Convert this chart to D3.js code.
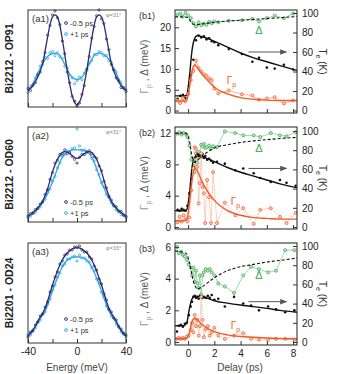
<!DOCTYPE html>
<html>
<head>
<meta charset="utf-8">
<script src="https://cdn.jsdelivr.net/npm/d3@7"></script>
<style>
body { margin: 0; background: #fff; }
text { font-family: "Liberation Sans", Arial, sans-serif; }
</style>
</head>
<body>
<div id="root"></div>
<script>
// ---- left column: symmetrized EDCs, energy -40..40 meV in 2 meV steps ----
var energy = d3.range(-40, 41, 2);

var a1DarkFit = [0.17,0.19,0.22,0.26,0.31,0.37,0.45,0.58,0.72,0.85,0.93,0.95,0.93,0.84,0.70,0.54,0.38,0.24,0.12,0.05,0.02,0.05,0.12,0.24,0.38,0.54,0.70,0.84,0.93,0.95,0.93,0.85,0.72,0.58,0.45,0.37,0.31,0.26,0.22,0.19,0.17];
var a1DarkPts = [0.19,0.17,0.23,0.25,0.33,0.36,0.47,0.56,0.74,0.84,0.95,0.99,0.92,0.85,0.68,0.55,0.36,0.25,0.11,0.06,0.01,0.04,0.13,0.22,0.39,0.52,0.71,0.83,0.94,1.00,0.91,0.86,0.70,0.59,0.44,0.38,0.30,0.27,0.20,0.20,0.16];
var a1LightFit = [0.17,0.20,0.24,0.29,0.35,0.40,0.45,0.49,0.52,0.54,0.55,0.555,0.55,0.53,0.49,0.44,0.39,0.34,0.31,0.29,0.285,0.29,0.31,0.34,0.39,0.44,0.49,0.53,0.55,0.555,0.55,0.54,0.52,0.49,0.45,0.40,0.35,0.29,0.24,0.20,0.17];
var a1LightPts = [0.15,0.21,0.22,0.30,0.34,0.42,0.44,0.51,0.50,0.56,0.57,0.53,0.56,0.52,0.50,0.42,0.40,0.33,0.30,0.24,0.27,0.31,0.28,0.35,0.38,0.45,0.48,0.54,0.54,0.57,0.56,0.53,0.53,0.48,0.46,0.39,0.36,0.28,0.25,0.19,0.18];

var a2DarkFit = [0.06,0.08,0.10,0.12,0.15,0.18,0.22,0.28,0.35,0.44,0.53,0.60,0.66,0.70,0.73,0.74,0.735,0.72,0.70,0.68,0.67,0.68,0.70,0.72,0.735,0.74,0.73,0.70,0.66,0.60,0.53,0.44,0.35,0.28,0.22,0.18,0.15,0.12,0.10,0.08,0.06];
var a2DarkPts = [0.05,0.09,0.09,0.13,0.14,0.19,0.21,0.29,0.34,0.45,0.52,0.62,0.65,0.71,0.72,0.76,0.72,0.73,0.69,0.66,0.62,0.68,0.71,0.71,0.74,0.75,0.72,0.69,0.67,0.59,0.54,0.43,0.36,0.27,0.23,0.17,0.16,0.11,0.11,0.07,0.06];
var a2LightFit = [0.06,0.07,0.09,0.11,0.14,0.17,0.21,0.25,0.30,0.36,0.42,0.49,0.56,0.63,0.68,0.72,0.74,0.75,0.76,0.76,0.76,0.76,0.76,0.75,0.74,0.72,0.68,0.63,0.56,0.49,0.42,0.36,0.30,0.25,0.21,0.17,0.14,0.11,0.09,0.07,0.06];
var a2LightPts = [0.07,0.06,0.10,0.10,0.15,0.16,0.22,0.24,0.31,0.35,0.43,0.48,0.57,0.62,0.69,0.71,0.75,0.74,0.77,0.78,0.98,0.80,0.75,0.76,0.73,0.73,0.67,0.64,0.55,0.50,0.41,0.37,0.29,0.26,0.20,0.18,0.13,0.12,0.08,0.08,0.05];

var a3DarkFit = [0.07,0.10,0.13,0.17,0.22,0.26,0.30,0.35,0.42,0.50,0.58,0.65,0.72,0.78,0.83,0.87,0.90,0.92,0.94,0.95,0.95,0.95,0.94,0.92,0.90,0.87,0.83,0.78,0.72,0.65,0.58,0.50,0.42,0.35,0.30,0.26,0.22,0.17,0.13,0.10,0.07];
var a3DarkPts = [0.06,0.11,0.12,0.18,0.21,0.27,0.29,0.36,0.41,0.51,0.57,0.66,0.71,0.79,0.82,0.88,0.89,0.93,0.93,0.96,0.96,0.97,0.93,0.91,0.91,0.86,0.84,0.77,0.73,0.64,0.59,0.49,0.43,0.34,0.31,0.25,0.23,0.16,0.14,0.09,0.08];
var a3LightFit = [0.07,0.09,0.12,0.16,0.20,0.24,0.28,0.32,0.38,0.45,0.52,0.59,0.65,0.71,0.76,0.80,0.83,0.845,0.855,0.86,0.86,0.86,0.855,0.845,0.83,0.80,0.76,0.71,0.65,0.59,0.52,0.45,0.38,0.32,0.28,0.24,0.20,0.16,0.12,0.09,0.07];
var a3LightPts = [0.08,0.08,0.13,0.15,0.21,0.23,0.29,0.31,0.39,0.44,0.53,0.58,0.66,0.70,0.77,0.79,0.84,0.84,0.86,0.87,0.82,0.88,0.85,0.85,0.82,0.81,0.75,0.72,0.64,0.60,0.51,0.46,0.37,0.33,0.27,0.25,0.19,0.17,0.11,0.10,0.06];

var energyTicks = [-40, -20, 0, 20, 40];
var energyLabels = [-40, 0, 40];

// ---- right column: delay traces ----
var fitDelay = [-1,-0.6,-0.3,-0.1,0.1,0.3,0.5,0.7,1.0,1.5,2,3,4,5,6,7,8.3];

var b1Delay = [-0.8,-0.6,-0.4,-0.2,0,0.2,0.4,0.6,0.8,1.0,1.2,1.4,1.6,1.8,2.0,2.3,3.1,4.1,4.9,5.4,6.0,6.6,7.3,8.0];
var b1Gap = [23.0,23.3,22.6,23.5,22.8,22.2,21.0,20.2,21.2,20.5,20.9,20.6,21.3,21.0,21.4,21.2,21.6,21.7,22.0,21.4,22.2,22.8,22.2,23.3];
var b1Te = [12,15,16,13,20,36,52,72,77,75,76,73,74,71,70,67,63,58,50,54,44,43,47,42];
var b1Gamma = [2.4,1.8,2.9,2.2,4.0,7.3,9.5,12.0,10.2,9.4,8.7,8.4,7.7,7.3,5.3,4.1,4.8,3.9,3.6,2.6,2.9,3.2,1.7,2.4];
var b1TeFit = [15,15,15,16,35,62,74,77,76,74,71,65,59,54,50,46,41];
var b1GammaFit = [2.3,2.3,2.3,2.6,5.5,9.5,11.0,10.3,9.0,7.2,5.6,4.0,3.1,2.7,2.5,2.4,2.4];
var b1GapFit = [22.5,22.5,22.5,22.4,21.8,21.0,20.6,20.6,20.8,21.0,21.2,21.5,21.7,21.9,22.1,22.3,22.6];

var b2Delay = [-0.8,-0.65,-0.5,-0.35,-0.2,-0.05,0.1,0.25,0.4,0.5,0.6,0.7,0.8,0.9,1.0,1.1,1.2,1.3,1.45,1.6,1.75,1.9,2.2,2.8,3.6,4.2,5.0,5.5,6.3,7.0,7.5,8.2];
var b2Gap = [11.9,12.1,11.8,12.0,11.9,11.5,10.4,8.6,7.8,7.0,9.4,8.2,9.6,9.0,10.5,10.3,10.6,10.1,10.2,10.4,10.0,10.3,10.2,12.2,12.0,11.7,11.7,11.5,12.0,11.7,11.6,12.1];
var b2Te = [18,17,19,18,17,22,35,50,62,68,73,76,74,75,73,76,72,74,70,71,69,67,68,66,59,61,56,51,47,49,46,43];
var b2Gamma = [0.6,1.3,0.7,1.5,1.0,0.7,1.2,4.7,7.5,10.2,10.0,7.7,3.0,5.6,9.4,5.1,4.3,0.5,6.0,3.8,0.5,7.0,0.5,3.1,1.5,2.4,0.4,2.2,2.4,1.3,0.5,1.8];
var b2TeFit = [17,17,17,18,35,62,73,75,74,71,68,62,57,53,49,45,41];
var b2GammaFit = [0.8,0.8,0.8,1.0,3.0,6.0,7.5,7.2,6.0,4.5,3.4,2.1,1.5,1.2,1.1,1.0,1.0];
var b2GapFit = [12,12,12,11.9,11.0,9.0,8.3,8.5,9.0,9.6,10.1,10.5,10.8,11.0,11.15,11.3,11.45];

var b3Delay = [-0.85,-0.7,-0.55,-0.4,-0.25,-0.1,0.05,0.2,0.3,0.4,0.5,0.6,0.7,0.8,0.9,1.0,1.1,1.2,1.35,1.5,1.65,1.8,2.0,2.3,2.8,3.5,4.2,4.8,5.4,6.1,6.7,7.4,8.1];
var b3Gap = [6.0,5.6,5.7,5.5,5.4,5.2,4.9,4.7,4.2,4.7,3.8,4.5,3.7,3.4,4.2,3.0,4.2,4.4,4.6,4.5,4.6,4.4,4.2,3.7,3.5,3.1,4.2,4.75,4.6,4.4,4.5,5.8,5.8];
var b3Te = [11,17,18,16,19,20,28,37,42,47,48,46,47,45,48,47,46,47,46,48,46,49,44,45,37,47,40,38,33,37,34,31,33];
var b3Gamma = [0.2,0.25,0.2,0.25,0.2,0.35,0.4,0.75,1.2,0.6,1.7,1.0,1.4,0.4,1.0,2.85,1.4,0.3,0.8,1.0,0.4,0.6,0.9,0.4,0.2,0.4,0.55,0.2,0.15,0.15,0.2,0.2,0.15];
var b3TeFit = [17,17,17,20,35,45,47.5,47.5,47,45.5,43,40.5,38.5,36.8,35,33,31];
var b3GammaFit = [0.2,0.2,0.2,0.25,0.6,1.3,1.5,1.4,1.15,0.85,0.65,0.45,0.35,0.3,0.25,0.22,0.2];
var b3GapFit = [5.75,5.7,5.65,5.55,5.0,4.2,3.6,3.35,3.45,3.75,4.05,4.5,4.75,4.9,5.05,5.15,5.3];

var delayTicks = [0, 2, 4, 6, 8];
var teTicks = [0, 20, 40, 60, 80, 100];

var navy = '#2d2c73', sky = '#2ea6df', green = '#3aa84f', orange = '#f15a29';

var svg = d3.select('#root').append('svg').attr('width', 339).attr('height', 374);

var xE = d3.scaleLinear().domain([-40, 40]).range([28, 126]);
var xD = d3.scaleLinear().domain([-1, 8.3]).range([175, 297]);

function styleAxis(g) {
    g.select('.domain').remove();
    g.selectAll('.tick line').attr('stroke', '#333');
    g.selectAll('.tick text').attr('fill', '#222').style('font-size', '10px')
        .style('font-family', '"Liberation Sans", Arial, sans-serif');
}

// ---- EDC panels ----
var aPanels = [
    { tag: '(a1)', name: 'Bi2212 - OP91', phi: 'φ=31°', top: 10, bottom: 107,
      dark: a1DarkPts, darkFit: a1DarkFit, light: a1LightPts, lightFit: a1LightFit, legendY: 23, last: false },
    { tag: '(a2)', name: 'Bi2212 - OD60', phi: 'φ=31°', top: 127, bottom: 222,
      dark: a2DarkPts, darkFit: a2DarkFit, light: a2LightPts, lightFit: a2LightFit, legendY: 202, last: false },
    { tag: '(a3)', name: 'Bi2201 - OD24', phi: 'φ=33°', top: 243, bottom: 343,
      dark: a3DarkPts, darkFit: a3DarkFit, light: a3LightPts, lightFit: a3LightFit, legendY: 319, last: true }
];

aPanels.forEach(function (p) {
    var y = d3.scaleLinear().domain([0, 1]).range([p.bottom, p.top]);
    var g = svg.append('g');
    var line = d3.line()
        .x(function (d, i) { return xE(energy[i]); })
        .y(function (d) { return y(d); })
        .curve(d3.curveCatmullRom);

    [[p.light, p.lightFit, sky], [p.dark, p.darkFit, navy]].forEach(function (s) {
        g.append('g').selectAll('circle')
            .data(s[0])
            .enter()
            .append('circle')
            .attr('cx', function (d, i) { return xE(energy[i]); })
            .attr('cy', function (d) { return y(d); })
            .attr('r', 1.1)
            .attr('fill', 'none')
            .attr('stroke', s[2])
            .attr('stroke-width', 0.8);
        g.append('path')
            .attr('d', line(s[1]))
            .attr('fill', 'none')
            .attr('stroke', s[2])
            .attr('stroke-width', 1.3);
    });

    g.append('rect')
        .attr('x', xE(-40)).attr('y', p.top)
        .attr('width', xE(40) - xE(-40)).attr('height', p.bottom - p.top)
        .attr('fill', 'none').attr('stroke', '#333').attr('stroke-width', 1);

    var ax = g.append('g')
        .attr('transform', 'translate(0,' + p.bottom + ')')
        .call(d3.axisBottom(xE).tickValues(energyTicks).tickSizeInner(-4).tickSizeOuter(0).tickPadding(5)
            .tickFormat(function (d) { return p.last && energyLabels.indexOf(d) >= 0 ? String(d) : ''; }));
    styleAxis(ax);
    ax.selectAll('.tick text').style('font-size', '10.5px');

    g.append('text').attr('x', 32).attr('y', p.top + 12)
        .style('font-size', '9.5px').attr('fill', '#333').text(p.tag);
    g.append('text').attr('x', 106).attr('y', p.top + 7)
        .style('font-size', '5.5px').attr('fill', '#888').text(p.phi);

    // legend
    [['-0.5 ps', navy, 0], ['+1 ps', sky, 11]].forEach(function (l) {
        g.append('circle').attr('cx', 66).attr('cy', p.legendY + l[2]).attr('r', 1.4)
            .attr('fill', 'none').attr('stroke', l[1]).attr('stroke-width', 0.9);
        g.append('text').attr('x', 70).attr('y', p.legendY + l[2] + 2.8)
            .style('font-size', '7.5px').attr('fill', '#333').text(l[0]);
    });

    g.append('text')
        .attr('transform', 'translate(13,' + (p.top + p.bottom) / 2 + ') rotate(-90)')
        .attr('text-anchor', 'middle')
        .style('font-size', '10.5px').style('font-weight', 'bold').attr('fill', '#222')
        .text(p.name);
});

svg.append('text').attr('x', 77).attr('y', 371).attr('text-anchor', 'middle')
    .style('font-size', '10px').attr('fill', '#444').text('Energy (meV)');

// ---- delay panels ----
var bPanels = [
    { tag: '(b1)', top: 10, bottom: 113, left: [-0.6, 24.16], right: [-2.56, 103.1], ticks: [0, 5, 10, 15, 20],
      delay: b1Delay, gap: b1Gap, te: b1Te, gamma: b1Gamma, gapFit: b1GapFit, teFit: b1TeFit, gammaFit: b1GammaFit,
      arrowK: 60, deltaK: 78.5, gammaK: 27, gammaT: 3.3, last: false },
    { tag: '(b2)', top: 127, bottom: 229, left: [-0.255, 12.77], right: [-2.08, 104.17], ticks: [0, 4, 8, 12],
      delay: b2Delay, gap: b2Gap, te: b2Te, gamma: b2Gamma, gapFit: b2GapFit, teFit: b2TeFit, gammaFit: b2GammaFit,
      arrowK: 61, deltaK: 78, gammaK: 23, gammaT: 3.6, last: false },
    { tag: '(b3)', top: 243, bottom: 345, left: [-0.19, 6.25], right: [-3.1, 103.1], ticks: [0, 2, 4, 6],
      delay: b3Delay, gap: b3Gap, te: b3Te, gamma: b3Gamma, gapFit: b3GapFit, teFit: b3TeFit, gammaFit: b3GammaFit,
      arrowK: 42, deltaK: 65.5, gammaK: 13.5, gammaT: 3.6, last: true }
];

var defs = svg.append('defs');
defs.append('marker').attr('id', 'head').attr('viewBox', '0 0 10 10')
    .attr('refX', 9).attr('refY', 5).attr('markerWidth', 7).attr('markerHeight', 7)
    .attr('orient', 'auto').attr('markerUnits', 'userSpaceOnUse')
    .append('path').attr('d', 'M0,1 L10,5 L0,9 z').attr('fill', '#555');

bPanels.forEach(function (p) {
    var yL = d3.scaleLinear().domain(p.left).range([p.bottom, p.top]);
    var yR = d3.scaleLinear().domain(p.right).range([p.bottom, p.top]);
    var g = svg.append('g');

    function trace(vals, xs, scale) {
        return d3.line()
            .x(function (d, i) { return xD(xs[i]); })
            .y(function (d) { return scale(d); })(vals);
    }
    function fit(vals, scale) {
        return d3.line()
            .x(function (d, i) { return xD(fitDelay[i]); })
            .y(function (d) { return scale(d); })
            .curve(d3.curveMonotoneX)(vals);
    }
    function dots(vals, scale, r, fill, stroke) {
        g.append('g').selectAll('circle')
            .data(vals)
            .enter()
            .append('circle')
            .attr('cx', function (d, i) { return xD(p.delay[i]); })
            .attr('cy', function (d) { return scale(d); })
            .attr('r', r)
            .attr('fill', fill)
            .attr('stroke', stroke)
            .attr('stroke-width', stroke === 'none' ? 0 : 0.8);
    }

    // gap
    g.append('path').attr('d', trace(p.gap, p.delay, yL))
        .attr('fill', 'none').attr('stroke', '#86cc93').attr('stroke-width', 0.8);
    dots(p.gap, yL, 1.5, '#c6e9cc', green);
    g.append('path').attr('d', fit(p.gapFit, yL))
        .attr('fill', 'none').attr('stroke', '#111').attr('stroke-width', 1.1).attr('stroke-dasharray', '3,2');

    // electron temperature
    dots(p.te, yR, 1.3, '#111', 'none');
    g.append('path').attr('d', fit(p.teFit, yR))
        .attr('fill', 'none').attr('stroke', '#111').attr('stroke-width', 1.4);

    // gamma_p
    g.append('path').attr('d', trace(p.gamma, p.delay, yL))
        .attr('fill', 'none').attr('stroke', '#f7a385').attr('stroke-width', 0.8)
        .attr('stroke-dasharray', p.tag === '(b1)' ? null : '1.5,0.8');
    dots(p.gamma, yL, 1.5, '#fdd5c5', orange);
    g.append('path').attr('d', fit(p.gammaFit, yL))
        .attr('fill', 'none').attr('stroke', orange).attr('stroke-width', 1.4);

    // box and axes
    g.append('rect')
        .attr('x', xD.range()[0]).attr('y', p.top)
        .attr('width', xD.range()[1] - xD.range()[0]).attr('height', p.bottom - p.top)
        .attr('fill', 'none').attr('stroke', '#333').attr('stroke-width', 1.1);

    var axB = g.append('g').attr('transform', 'translate(0,' + p.bottom + ')')
        .call(d3.axisBottom(xD).tickValues(delayTicks).tickSizeInner(-4).tickSizeOuter(0).tickPadding(5)
            .tickFormat(function (d) { return p.last ? String(d) : ''; }));
    styleAxis(axB);
    var axL = g.append('g').attr('transform', 'translate(' + xD.range()[0] + ',0)')
        .call(d3.axisLeft(yL).tickValues(p.ticks).tickSizeInner(-4).tickSizeOuter(0).tickPadding(4)
            .tickFormat(function (d) { return String(d); }));
    styleAxis(axL);
    var axR = g.append('g').attr('transform', 'translate(' + xD.range()[1] + ',0)')
        .call(d3.axisRight(yR).tickValues(teTicks).tickSizeInner(-4).tickSizeOuter(0).tickPadding(5)
            .tickFormat(function (d) { return String(d); }));
    styleAxis(axR);

    // annotations
    g.append('line')
        .attr('x1', xD(4.6)).attr('x2', xD(7.5))
        .attr('y1', yR(p.arrowK)).attr('y2', yR(p.arrowK))
        .attr('stroke', '#555').attr('stroke-width', 1).attr('marker-end', 'url(#head)');
    g.append('text').attr('x', xD(5.4)).attr('y', yR(p.deltaK)).attr('text-anchor', 'middle')
        .style('font-size', '11px').attr('fill', green).text('Δ');
    var gt = g.append('text').attr('x', xD(p.gammaT)).attr('y', yR(p.gammaK)).attr('text-anchor', 'middle')
        .style('font-size', '10px').attr('fill', orange);
    gt.append('tspan').text('Γ');
    gt.append('tspan').attr('dy', 3).style('font-size', '7px').text('p');

    g.append('text').attr('x', 139).attr('y', p.top + 9)
        .style('font-size', '9px').attr('fill', '#333').text(p.tag);

    var yl = g.append('text')
        .attr('transform', 'translate(148,' + ((p.top + p.bottom) / 2 + 5) + ') rotate(-90)')
        .attr('text-anchor', 'middle').style('font-size', '10px').attr('fill', '#555');
    yl.append('tspan').attr('fill', '#999').text('Γ');
    yl.append('tspan').attr('fill', '#999').attr('dy', 3).style('font-size', '7px').text('p');
    yl.append('tspan').attr('dy', -3).text(' , Δ (meV)');

    var yr = g.append('text')
        .attr('transform', 'translate(319,' + ((p.top + p.bottom) / 2) + ') rotate(90)')
        .attr('text-anchor', 'middle').style('font-size', '10px').attr('fill', '#333');
    yr.append('tspan').text('T');
    yr.append('tspan').attr('dy', 3).style('font-size', '7px').text('e');
    yr.append('tspan').attr('dy', -3).text(' (K)');
});

svg.append('text').attr('x', 240).attr('y', 371).attr('text-anchor', 'middle')
    .style('font-size', '10px').attr('fill', '#444').text('Delay (ps)');
</script>
</body>
</html>
